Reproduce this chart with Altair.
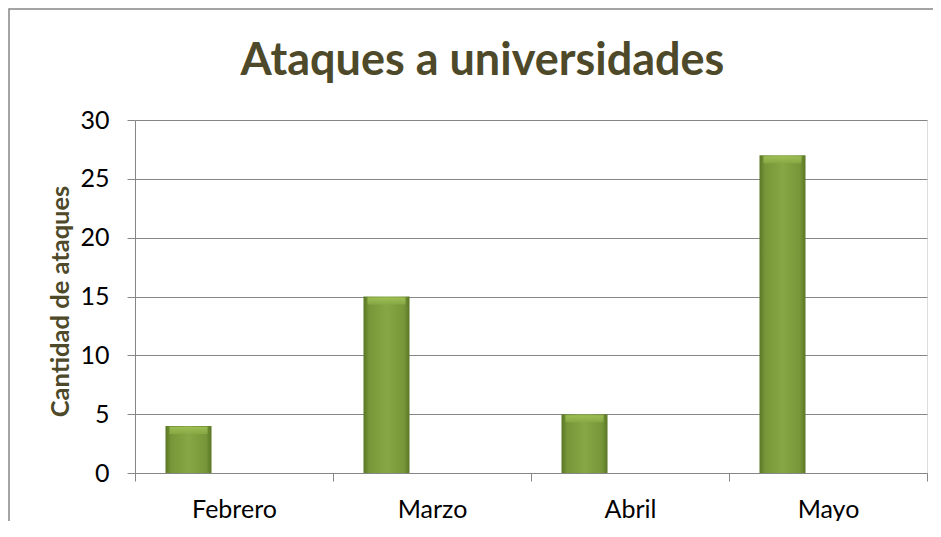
import altair as alt
import pandas as pd

months = ["Febrero", "Marzo", "Abril", "Mayo"]
attacks = [4, 15, 5, 27]

df = pd.DataFrame({"mes": months, "ataques": attacks})

FONT = "Lato"
GRAY = "#868686"
OLIVE = "#4d4929"

x_enc = alt.X(
    "mes:N",
    sort=months,
    scale=alt.Scale(paddingInner=0, paddingOuter=0),
    axis=alt.Axis(
        title=None,
        labelAngle=0,
        labelFont=FONT,
        labelFontSize=25,
        labelColor="#000000",
        labelBaseline="alphabetic",
        labelPadding=36,
        tickBand="extent",
        tickSize=8,
        tickColor=GRAY,
        domainColor=GRAY,
        grid=False,
    ),
)

y_enc = alt.Y(
    "ataques:Q",
    scale=alt.Scale(domain=[0, 30], nice=False),
    axis=alt.Axis(
        title="Cantidad de ataques",
        values=[0, 5, 10, 15, 20, 25, 30],
        labelFont=FONT,
        labelFontSize=25,
        labelColor="#000000",
        labelPadding=18,
        tickSize=8,
        tickColor=GRAY,
        domainColor=GRAY,
        gridColor=GRAY,
        gridOpacity=1,
        titleFont=FONT,
        titleFontSize=25.5,
        titleFontWeight="bold",
        titleColor=OLIVE,
        titleAngle=270,
        titleAlign="center",
        titleBaseline="middle",
        titleX=-75,
        titleY=181,
    ),
)

bar_fill = alt.Gradient(
    gradient="linear",
    x1=0, x2=1, y1=0, y2=0,
    stops=[
        alt.GradientStop(offset=0, color="#5a7624"),
        alt.GradientStop(offset=0.12, color="#779639"),
        alt.GradientStop(offset=0.5, color="#86a744"),
        alt.GradientStop(offset=0.88, color="#779639"),
        alt.GradientStop(offset=1, color="#5a7624"),
    ],
)

bars = alt.Chart(df).mark_bar(
    width=46, xOffset=-45.5, fill=bar_fill
).encode(x=x_enc, y=y_enc)

bevel_fill = alt.Gradient(
    gradient="linear",
    x1=0, x2=0, y1=0, y2=1,
    stops=[
        alt.GradientStop(offset=0, color="#a2c456"),
        alt.GradientStop(offset=1, color="#88aa46"),
    ],
)

bevel = alt.Chart(df).mark_tick(
    size=38, thickness=7, xOffset=-45.5, yOffset=4.5, fill=bevel_fill, opacity=0.85
).encode(x=alt.X("mes:N", sort=months), y="ataques:Q")

border = alt.Chart(pd.DataFrame({"a": [0]})).mark_rect(
    fill="transparent", stroke=GRAY, strokeWidth=1.5
).encode(
    x=alt.value(-126), x2=alt.value(900), y=alt.value(-111), y2=alt.value(600)
)

chart = alt.layer(border, bars, bevel).properties(
    width=792,
    height=353,
    title=alt.TitleParams(
        "Ataques a universidades",
        font=FONT,
        fontSize=45,
        fontWeight="bold",
        color=OLIVE,
        anchor="middle",
        dx=-48.5,
        baseline="alphabetic",
        offset=0,
        dy=111.5,
    ),
    autosize=alt.AutoSizeParams(type="none"),
    padding={"left": 127, "top": 112, "right": 6, "bottom": 48},
).configure_view(stroke=None).configure(background="white")

chart.save("out.html", embed_options={"renderer": "svg", "actions": False})
